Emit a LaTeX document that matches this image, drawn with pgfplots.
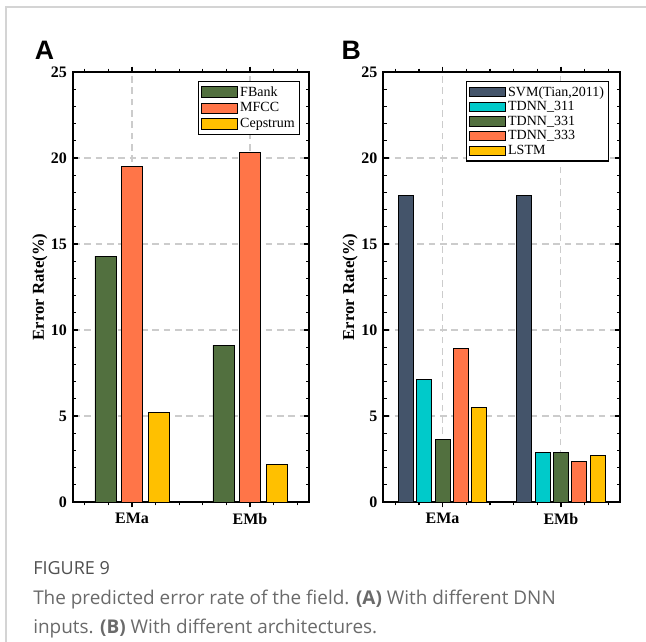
\documentclass[border=0pt]{standalone}
\usepackage{fontspec}
\setmainfont{Liberation Serif}
\newfontfamily\capfont{Open Sans}
\newfontfamily\panelfont{Liberation Sans}
\usepackage{pgfplots}
\pgfplotsset{compat=1.18}

\definecolor{cGreen}{HTML}{52703F}
\definecolor{cOrange}{HTML}{FF7548}
\definecolor{cGold}{HTML}{FFC000}
\definecolor{cSlate}{HTML}{44546A}
\definecolor{cCyan}{HTML}{00CACA}
\definecolor{frameGray}{HTML}{D4D4D4}
\definecolor{capGray}{HTML}{6A6A6A}

\pgfplotsset{
  errpanel/.style={
    scale only axis,
    width=177pt, height=322.5pt,
    xmin=0.5, xmax=2.5,
    ymin=0, ymax=25,
    xtick={1,2}, xticklabels={EMa,EMb},
    minor xtick={0.6,0.8,1.2,1.4,1.6,1.8,2.2,2.4},
    ytick={0,5,...,25}, minor y tick num=4,
    tick align=inside,
    major tick length=4pt, minor tick length=2.5pt,
    axis line style={line width=1.4pt},
    every tick/.style={black, line width=1pt},
    grid=major,
    major grid style={gray!40, line width=0.8pt, dash pattern=on 5pt off 3.5pt},
    /pgf/number format/assume math mode=true,
    tick label style={font=\fontsize{12}{14}\selectfont\bfseries},
    yticklabel style={xshift=-1pt},
    xticklabel style={yshift=-1pt},
    ylabel={Error Rate(\%)},
    ylabel style={font=\fontsize{12.5}{14}\selectfont\bfseries, at={(axis description cs:-0.14,0.5)}, anchor=center},
    legend cell align=left,
    legend style={draw=black, line width=1pt, font=\fontsize{10.5}{11}\selectfont,
      at={(axis description cs:1,1)}, anchor=north east, xshift=-6.75pt, yshift=-6.75pt,
      inner sep=1.5pt, row sep=-0.5pt},
  },
  barstyle/.style={draw=black, line width=0.7pt, fill=#1},
}

\begin{document}
\begin{tikzpicture}
\useasboundingbox (0,0) rectangle (484.5pt,-481.5pt);
\draw[frameGray, line width=1.1pt] (4.5pt,-481.5pt) -- (4.5pt,-5.25pt) -- (484.5pt,-5.25pt);

\node[font=\panelfont\bfseries\fontsize{20}{22}\selectfont] at (33.4pt,-37.9pt) {A};
\node[font=\panelfont\bfseries\fontsize{20}{22}\selectfont] at (263.5pt,-37.9pt) {B};

\begin{axis}[errpanel, at={(54.75pt,-376.5pt)}, anchor=south west,
  ybar=4.15pt, bar width=15.75pt,
  every axis plot post/.append style={legend image code/.code={\draw[##1, line width=0.7pt] (0pt,-4pt) rectangle (27pt,4pt);}},
]
\addplot[barstyle=cGreen] coordinates {(1,14.3) (2,9.1)};
\addplot[barstyle=cOrange] coordinates {(1,19.5) (2,20.3)};
\addplot[barstyle=cGold] coordinates {(1,5.2) (2,2.2)};
\legend{FBank,MFCC,Cepstrum}
\end{axis}

\begin{axis}[errpanel, at={(287.5pt,-376.5pt)}, anchor=south west,
  width=177.5pt,
  ybar=2.5pt, bar width=11.25pt,
  legend style={xshift=-1.25pt, row sep=-1.5pt},
  every axis plot post/.append style={legend image code/.code={\draw[##1, line width=0.7pt] (0pt,-3.5pt) rectangle (27pt,3.5pt);}},
]
\addplot[barstyle=cSlate] coordinates {(1,17.8) (2,17.8)};
\addplot[barstyle=cCyan] coordinates {(1,7.1) (2,2.9)};
\addplot[barstyle=cGreen] coordinates {(1,3.65) (2,2.9)};
\addplot[barstyle=cOrange] coordinates {(1,8.9) (2,2.35)};
\addplot[barstyle=cGold] coordinates {(1,5.5) (2,2.7)};
\legend{{SVM(Tian,2011)},TDNN\_311,TDNN\_331,TDNN\_333,LSTM}
\end{axis}

\node[anchor=base west, inner sep=0pt, font=\capfont\fontsize{13.5}{15}\selectfont, text=capGray!75!black] at (24.75pt,-431pt) {FIGURE 9};
\node[anchor=base west, inner sep=0pt, font=\capfont\fontsize{14.2}{16}\selectfont, text=capGray] at (24.75pt,-453.5pt) {The predicted error rate of the field. \textbf{(A)} With different DNN};
\node[anchor=base west, inner sep=0pt, font=\capfont\fontsize{14.2}{16}\selectfont, text=capGray] at (24.75pt,-475pt) {inputs. \textbf{(B)} With different architectures.};
\end{tikzpicture}
\end{document}
